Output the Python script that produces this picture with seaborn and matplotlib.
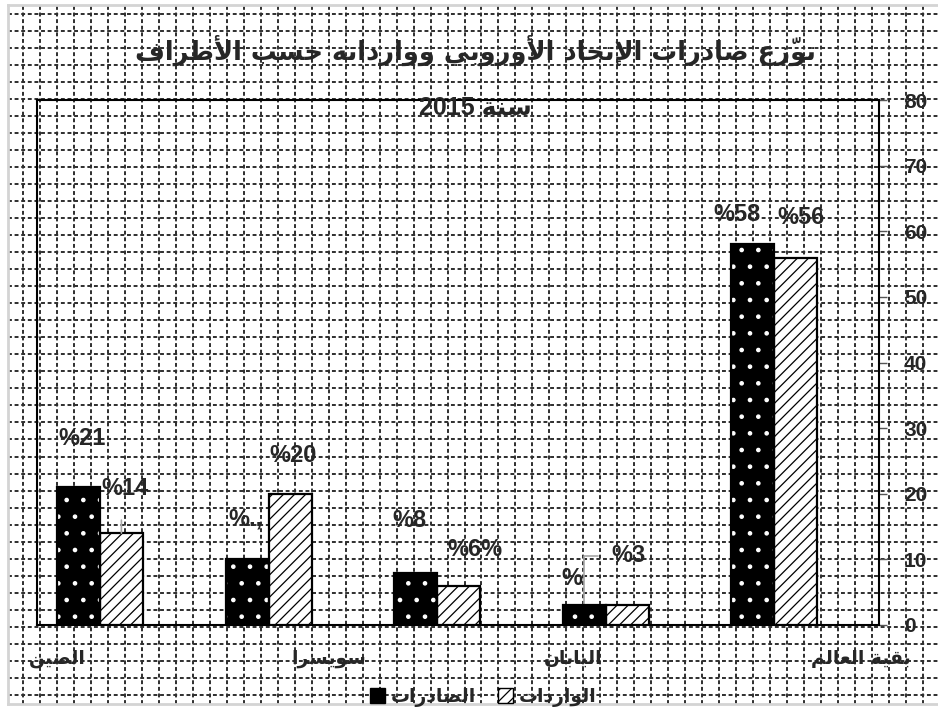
import numpy as np
import pandas as pd
import matplotlib
matplotlib.use("Agg")
import matplotlib.pyplot as plt
from matplotlib.patches import Rectangle, Patch
import seaborn as sns

# ---- data ----
groups = ["1", "2", "3", "4", "5"]
exports = [21, 10, 8, 3, 58]
imports = [14, 20, 6, 3, 56]
export_labels = ["%21", "%.,", "%8", "%", "%58"]
import_labels = ["%14", "%20", "%6%", "%3", "%56"]
category_names = ["الصين", "سويسرا", "اليابان", "بقية العالم"]
series_names = ["الصادرات", "الواردات"]
title = "توزّع صادرات الإتحاد الأوروبي ووارداته حسب الأطراف"
subtitle = "سنة 2015"
yticks = [0, 10, 20, 30, 40, 50, 60, 70, 80]

# label placement (pixels from top of bar) and category label positions
export_offsets = [(4, 49), (-2, 40), (-6, 52), (-12, 27), (-16, 30)]
import_offsets = [(4, 45), (3, 38), (16, 36), (1, 50), (5, 40)]
category_pos = [-0.255, 1.358, 2.805, 4.513]

# ---- minimal arabic shaping (matplotlib has no bidi / joining) ----
FORMS = {'ا': 0xFE8D, 'أ': 0xFE83, 'إ': 0xFE87, 'ب': 0xFE8F, 'ة': 0xFE93,
         'ت': 0xFE95, 'ح': 0xFEA1, 'د': 0xFEA9, 'ر': 0xFEAD, 'ز': 0xFEAF,
         'س': 0xFEB1, 'ص': 0xFEB9, 'ط': 0xFEC1, 'ع': 0xFEC9, 'ف': 0xFED1,
         'ق': 0xFED5, 'ل': 0xFEDD, 'م': 0xFEE1, 'ن': 0xFEE5, 'ه': 0xFEE9,
         'و': 0xFEED, 'ي': 0xFEF1}
RIGHT_ONLY = set('اأإدرزوة')
LAM_ALEF = {'ا': 0xFEFB, 'أ': 0xFEF7, 'إ': 0xFEF9}
MARKS = set('\u064B\u064C\u064D\u064E\u064F\u0650\u0651\u0652')


def shape(text):
    clusters = []
    for ch in text:
        if ch in MARKS and clusters:
            clusters[-1][1] += ch
        else:
            clusters.append([ch, ''])
    out = []
    prev_joins = False
    i = 0
    while i < len(clusters):
        ch, mk = clusters[i]
        if ch not in FORMS:
            out.append((ch + mk, ch.isascii() and not ch.isspace()))
            prev_joins = False
            i += 1
            continue
        nxt = clusters[i + 1][0] if i + 1 < len(clusters) else ''
        if ch == 'ل' and nxt in LAM_ALEF:
            out.append((chr(LAM_ALEF[nxt] + int(prev_joins)) + mk + clusters[i + 1][1], False))
            prev_joins = False
            i += 2
            continue
        can_next = ch not in RIGHT_ONLY and nxt in FORMS
        if ch in RIGHT_ONLY:
            form = int(prev_joins)
        else:
            form = {(False, False): 0, (True, False): 1,
                    (False, True): 2, (True, True): 3}[(prev_joins, can_next)]
        out.append((chr(FORMS[ch] + form) + mk, False))
        prev_joins = can_next
        i += 1
    # visual order: reverse the runs, keep latin/digit runs left to right
    runs = []
    for glyph, ltr in out:
        if runs and runs[-1][0] == ltr:
            runs[-1][1].append(glyph)
        else:
            runs.append([ltr, [glyph]])
    vis = ""
    for ltr, glyphs in reversed(runs):
        vis += "".join(glyphs if ltr else reversed(glyphs))
    return vis


sns.set_theme(style="white")
plt.rcParams["hatch.linewidth"] = 0.9
AR = ["DejaVu Sans"]
NUM = ["Liberation Sans", "DejaVu Sans"]

W, H = 938, 707
fig = plt.figure(figsize=(W / 100, H / 100), dpi=100, facecolor="white")

# squared paper background
bg = fig.add_axes([8 / W, 3 / H, 930 / W, 699 / H], zorder=0)
bg.set_xlim(8, 938)
bg.set_ylim(702, 5)
for v in np.arange(23.3, 938, 16.97):
    bg.axvline(v, color="#2e2e2e", lw=1.4, ls=(0, (2.0, 1.4)))
for h in np.arange(14, 702, 16.97):
    bg.axhline(h, color="#2e2e2e", lw=1.4, ls=(0, (2.0, 1.4)))
bg.set_xticks([])
bg.set_yticks([])
for side in ["left", "top", "bottom"]:
    bg.spines[side].set_color("#d4d4d4")
    bg.spines[side].set_linewidth(2)
bg.spines["right"].set_visible(False)
bg.set_facecolor("white")

ax = fig.add_axes([37 / W, 82 / H, 842 / W, 525 / H], zorder=1)
ax.set_facecolor("none")

df = pd.DataFrame({
    "group": groups * 2,
    "series": [series_names[0]] * len(groups) + [series_names[1]] * len(groups),
    "value": exports + imports,
})
sns.barplot(data=df, x="group", y="value", hue="series", order=groups,
            hue_order=series_names, palette=["black", "white"], width=0.51,
            edgecolor="black", linewidth=1.6, legend=False, ax=ax, zorder=3)

exp_bars = ax.containers[0]
imp_bars = ax.containers[1]
for b in exp_bars:
    b.set_edgecolor("white")
    b.set_hatch(".")
    b.set_linewidth(0)
    ax.add_patch(Rectangle((b.get_x(), 0), b.get_width(), b.get_height(),
                           fill=False, edgecolor="black", lw=1.6, zorder=4))
for b in imp_bars:
    b.set_hatch("///")

ax.set_xlim(-0.373, 4.62)
ax.set_ylim(0, 80)
ax.set_xlabel("")
ax.set_ylabel("")
for s in ax.spines.values():
    s.set_visible(True)
    s.set_color("black")
    s.set_linewidth(1.5)

ax.yaxis.tick_right()
ax.set_yticks(yticks)
ax.set_yticklabels([str(t) for t in yticks], family=NUM, fontweight="bold", fontsize=15)
ax.tick_params(axis="y", direction="out", length=6, width=1, color="#555555", pad=12)
ax.set_xticks(category_pos)
ax.set_xticklabels([shape(c) for c in category_names], family=AR, fontweight="bold", fontsize=13.5)
ax.tick_params(axis="x", length=0, pad=17)
ax.grid(False)

# data labels
for bars, labs, offs in [(exp_bars, export_labels, export_offsets),
                         (imp_bars, import_labels, import_offsets)]:
    for b, lab, off in zip(bars, labs, offs):
        ax.annotate(lab, (b.get_x() + b.get_width() / 2, b.get_height()),
                    xytext=off, textcoords="offset pixels", ha="center", va="center",
                    family=NUM, fontweight="bold", fontsize=17, zorder=5)

# leader lines
b = imp_bars[0]
ax.annotate("", (b.get_x() + b.get_width() / 2, b.get_height()), xytext=(0, 13),
            textcoords="offset pixels",
            arrowprops=dict(arrowstyle="-", color="#a6a6a6", lw=1.2, shrinkA=0, shrinkB=0))
b = exp_bars[3]
ax.annotate("", (b.get_x() + b.get_width() / 2, b.get_height()), xytext=(14, 49),
            textcoords="offset pixels",
            arrowprops=dict(arrowstyle="-", color="#a6a6a6", lw=1.2, shrinkA=0, shrinkB=0,
                            connectionstyle="angle,angleA=0,angleB=90,rad=0"))

fig.text(475 / W, 1 - 50 / H, shape(title), ha="center", va="center",
         family=AR, fontweight="bold", fontsize=18.5)
fig.text(475 / W, 1 - 108 / H, shape(subtitle), ha="center", va="center",
         family=NUM, fontweight="bold", fontsize=18, zorder=5)

handles = [Patch(facecolor="black", edgecolor="black"),
           Patch(facecolor="white", edgecolor="black", hatch="///")]
fig.legend(handles, [shape(s) for s in series_names], loc="center",
           bbox_to_anchor=(483 / W, 1 - 697 / H), ncol=2, frameon=False,
           prop=dict(family=AR, weight="bold", size=13.5), handlelength=0.8,
           handleheight=0.8, handletextpad=0.3, columnspacing=1.2)

fig.savefig("out.png", dpi=100, facecolor="white")
